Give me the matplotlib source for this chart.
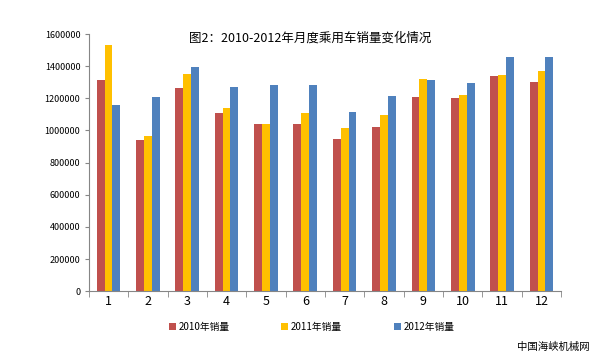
import numpy as np
import matplotlib
matplotlib.use("Agg")
import matplotlib.pyplot as plt

plt.rcParams['font.family'] = ['Noto Sans CJK SC', 'DejaVu Sans']

months = ['1', '2', '3', '4', '5', '6', '7', '8', '9', '10', '11', '12']
sales_2010 = [1315000, 940000, 1265000, 1106000, 1040000, 1040000,
              945000, 1019000, 1210000, 1200000, 1337000, 1303000]
sales_2011 = [1530000, 965000, 1350000, 1141000, 1040000, 1110000,
              1013000, 1094000, 1318000, 1222000, 1345000, 1368000]
sales_2012 = [1160000, 1210000, 1395000, 1272000, 1281000, 1281000,
              1117000, 1216000, 1315000, 1297000, 1459000, 1459000]
series_names = ['2010年销量', '2011年销量', '2012年销量']
colors = ['#C0504D', '#FFC000', '#4F81BD']

fig = plt.figure(figsize=(6.08, 3.59), dpi=100)
ax = fig.add_axes([0.146, 0.189, 0.777, 0.716])

x = np.arange(len(months))
w = 0.2
for i, (vals, name, c) in enumerate(zip([sales_2010, sales_2011, sales_2012], series_names, colors)):
    ax.bar(x + (i - 1) * w, vals, width=w, color=c, label=name, zorder=2)

ax.set_xlim(-0.5, 11.5)
ax.set_ylim(0, 1600000)
ax.set_yticks(np.arange(0, 1600001, 200000))
ax.set_yticklabels([str(v) for v in range(0, 1600001, 200000)], fontsize=6.5)
ax.set_xticks(x)
ax.set_xticklabels(months, fontsize=9)
ax.set_xticks(np.arange(-0.5, 12, 1), minor=True)
ax.tick_params(axis='x', which='major', length=0, pad=3)
ax.tick_params(axis='x', which='minor', length=4, color='#868686')
ax.tick_params(axis='y', length=3, color='#868686', pad=3)

for s in ['top', 'right']:
    ax.spines[s].set_visible(False)
for s in ['left', 'bottom']:
    ax.spines[s].set_color('#868686')
    ax.spines[s].set_linewidth(0.8)

fig.text(0.51, 0.895, '图2：2010-2012年月度乘用车销量变化情况', ha='center', va='center', fontsize=9)

ax.legend(loc='upper center', bbox_to_anchor=(0.472, -0.085), ncol=3, frameon=False,
          fontsize=7, handlelength=0.7, handleheight=0.7, handletextpad=0.3, columnspacing=5.3)

fig.text(0.97, 0.02, '中国海峡机械网', ha='right', va='bottom', fontsize=7.5)

fig.savefig('out.png', dpi=100)
